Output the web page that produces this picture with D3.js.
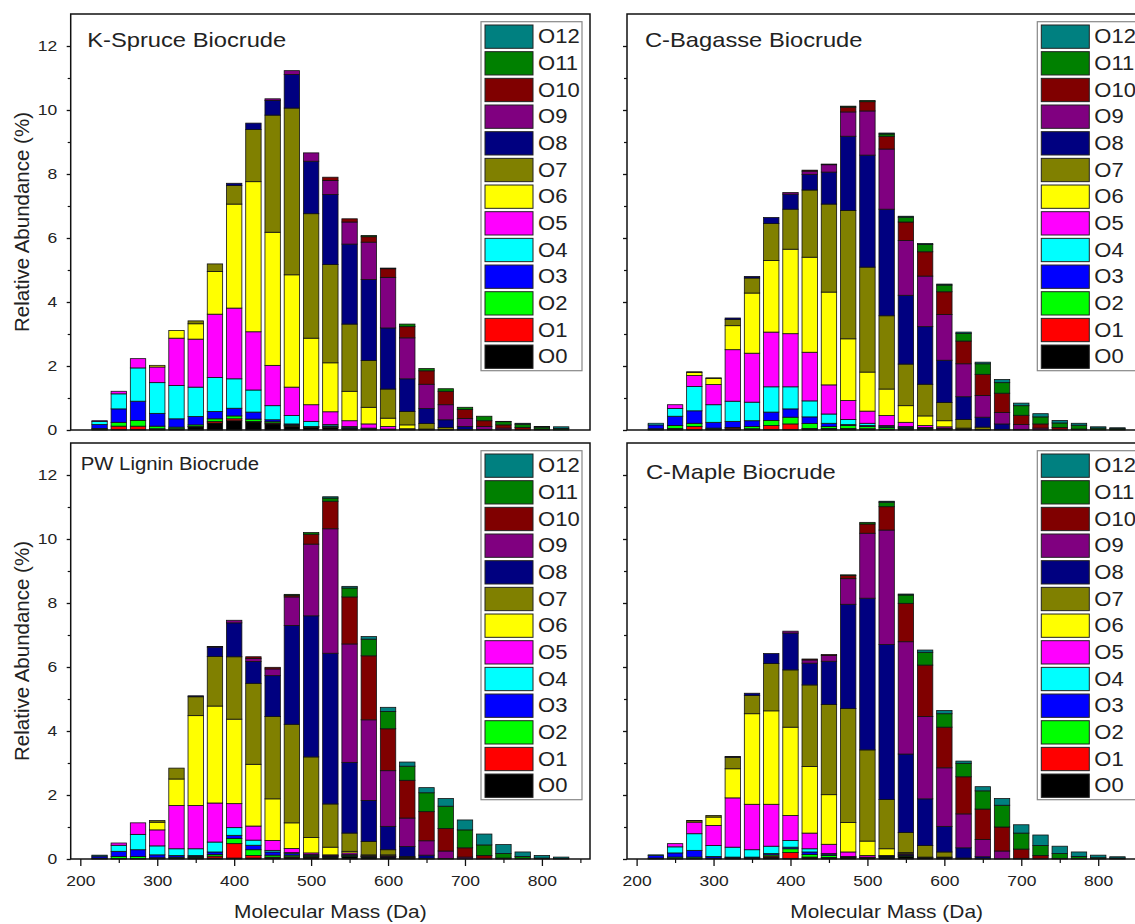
<!DOCTYPE html>
<html>
<head>
<meta charset="utf-8">
<script src="https://cdn.jsdelivr.net/npm/d3@7"></script>
<style>
  body { margin: 0; background: #fff; }
  text { font-family: "Liberation Sans", Arial, sans-serif; fill: #222; }
</style>
</head>
<body>
<svg id="chart" width="1135" height="924"></svg>
<script>
// mass bins (Da) and oxygen classes
const masses = [225, 250, 275, 300, 325, 350, 375, 400, 425, 450, 475, 500, 525, 550, 575, 600, 625, 650, 675, 700, 725, 750, 775, 800, 825];
const classes = ["O0", "O1", "O2", "O3", "O4", "O5", "O6", "O7", "O8", "O9", "O10", "O11", "O12"];
const classColors = ["#000000", "#ff0000", "#00ff00", "#0000ff", "#00ffff", "#ff00ff", "#ffff00", "#808000", "#000080", "#800080", "#800000", "#008000", "#008080"];
const yTickValues = [0, 2, 4, 6, 8, 10, 12];
const xTickValues = [200, 300, 400, 500, 600, 700, 800];
const panelTitles = ["K-Spruce Biocrude", "C-Bagasse Biocrude", "PW Lignin Biocrude", "C-Maple Biocrude"];

// rows = mass bins, columns = O0 .. O12 (relative abundance %)
const spruce = [
  [0.02, 0, 0.03, 0.12, 0.1, 0.02, 0, 0, 0, 0, 0, 0, 0],
  [0.02, 0.1, 0.12, 0.42, 0.47, 0.08, 0, 0, 0, 0, 0, 0, 0],
  [0.02, 0.1, 0.18, 0.6, 1.04, 0.29, 0, 0, 0, 0, 0, 0, 0],
  [0.02, 0.02, 0.08, 0.4, 0.96, 0.49, 0.05, 0, 0, 0, 0, 0, 0],
  [0.03, 0.01, 0.05, 0.26, 1.04, 1.48, 0.24, 0, 0, 0, 0, 0, 0],
  [0.1, 0.01, 0.05, 0.26, 0.92, 1.5, 0.48, 0.09, 0, 0, 0, 0, 0],
  [0.22, 0.05, 0.08, 0.23, 1.06, 1.98, 1.33, 0.24, 0, 0, 0, 0, 0],
  [0.29, 0.06, 0.09, 0.24, 0.92, 2.21, 3.25, 0.58, 0.07, 0, 0, 0, 0],
  [0.25, 0.02, 0.07, 0.22, 0.69, 1.82, 4.69, 1.63, 0.2, 0, 0, 0, 0],
  [0.19, 0.03, 0.04, 0.06, 0.44, 1.26, 4.16, 3.66, 0.46, 0.05, 0, 0, 0],
  [0.12, 0.02, 0.02, 0.03, 0.26, 0.89, 3.51, 5.21, 1.05, 0.12, 0, 0, 0],
  [0.08, 0.01, 0.01, 0.01, 0.16, 0.52, 2.08, 3.89, 1.64, 0.26, 0, 0, 0],
  [0.08, 0, 0.02, 0.03, 0.04, 0.4, 1.53, 3.07, 2.19, 0.44, 0.1, 0, 0],
  [0.04, 0, 0.01, 0.03, 0.03, 0.18, 0.92, 2.1, 2.5, 0.69, 0.1, 0, 0],
  [0.03, 0, 0.01, 0.01, 0.01, 0.13, 0.52, 1.46, 2.53, 1.17, 0.17, 0.04, 0],
  [0.02, 0, 0, 0, 0.01, 0.08, 0.26, 0.91, 1.91, 1.58, 0.27, 0.02, 0],
  [0.02, 0, 0, 0, 0, 0.02, 0.12, 0.42, 1.02, 1.28, 0.35, 0.08, 0],
  [0.01, 0, 0, 0, 0, 0, 0.02, 0.17, 0.47, 0.76, 0.42, 0.07, 0],
  [0, 0, 0, 0, 0, 0, 0.01, 0.07, 0.24, 0.47, 0.42, 0.08, 0],
  [0, 0, 0, 0, 0, 0, 0, 0.01, 0.1, 0.25, 0.28, 0.07, 0],
  [0, 0, 0, 0, 0, 0, 0, 0, 0.02, 0.09, 0.18, 0.14, 0],
  [0, 0, 0, 0, 0, 0, 0, 0, 0, 0.06, 0.1, 0.1, 0.01],
  [0, 0, 0, 0, 0, 0, 0, 0, 0, 0, 0.08, 0.1, 0.03],
  [0, 0, 0, 0, 0, 0, 0, 0, 0, 0, 0.03, 0.06, 0.02],
  [0, 0, 0, 0, 0, 0, 0, 0, 0, 0, 0, 0.05, 0.05]
];

const bagasse = [
  [0.02, 0, 0.02, 0.12, 0.05, 0, 0, 0, 0, 0, 0, 0, 0],
  [0.02, 0.03, 0.09, 0.29, 0.24, 0.12, 0, 0, 0, 0, 0, 0, 0],
  [0.01, 0.1, 0.1, 0.39, 0.76, 0.34, 0.1, 0.02, 0, 0, 0, 0, 0],
  [0.02, 0.01, 0.03, 0.18, 0.55, 0.63, 0.19, 0.02, 0, 0, 0, 0, 0],
  [0.02, 0.04, 0.02, 0.19, 0.63, 1.61, 0.75, 0.19, 0.05, 0, 0, 0, 0],
  [0.02, 0.02, 0.07, 0.18, 0.58, 1.53, 1.88, 0.47, 0.05, 0, 0, 0, 0],
  [0.02, 0.12, 0.16, 0.26, 0.79, 1.71, 2.24, 1.15, 0.19, 0, 0, 0, 0],
  [0.02, 0.17, 0.21, 0.26, 0.69, 1.66, 2.64, 1.25, 0.47, 0.05, 0, 0, 0],
  [0.03, 0.02, 0.15, 0.21, 0.5, 1.52, 2.97, 2.1, 0.49, 0.1, 0.03, 0, 0],
  [0.03, 0.02, 0.06, 0.1, 0.29, 0.91, 2.9, 2.75, 1.0, 0.23, 0.02, 0, 0],
  [0.03, 0.02, 0.09, 0.03, 0.16, 0.59, 1.93, 4.01, 2.32, 0.76, 0.15, 0.03, 0],
  [0.03, 0.01, 0.07, 0.03, 0.07, 0.38, 1.22, 3.28, 3.5, 1.38, 0.29, 0.04, 0],
  [0.03, 0, 0.05, 0.03, 0.03, 0.31, 0.83, 2.29, 3.33, 1.88, 0.4, 0.07, 0.03],
  [0.03, 0, 0.03, 0.02, 0.03, 0.13, 0.52, 1.3, 2.15, 1.71, 0.58, 0.15, 0.03],
  [0.02, 0, 0.02, 0.02, 0.02, 0.06, 0.3, 0.99, 1.8, 1.58, 0.76, 0.23, 0.03],
  [0.02, 0, 0.01, 0.01, 0.02, 0.04, 0.19, 0.57, 1.32, 1.43, 0.71, 0.21, 0.03],
  [0.01, 0, 0, 0, 0, 0.02, 0.03, 0.27, 0.71, 1.03, 0.71, 0.24, 0.04],
  [0, 0, 0, 0, 0, 0, 0.01, 0.08, 0.31, 0.68, 0.66, 0.33, 0.05],
  [0, 0, 0, 0, 0, 0, 0, 0.02, 0.17, 0.36, 0.6, 0.33, 0.1],
  [0, 0, 0, 0, 0, 0, 0, 0, 0.02, 0.15, 0.29, 0.3, 0.08],
  [0, 0, 0, 0, 0, 0, 0, 0, 0, 0.06, 0.13, 0.22, 0.1],
  [0, 0, 0, 0, 0, 0, 0, 0, 0, 0, 0.08, 0.14, 0.08],
  [0, 0, 0, 0, 0, 0, 0, 0, 0, 0, 0.03, 0.12, 0.06],
  [0, 0, 0, 0, 0, 0, 0, 0, 0, 0, 0, 0.06, 0.04],
  [0, 0, 0, 0, 0, 0, 0, 0, 0, 0, 0, 0.04, 0.03]
];

const lignin = [
  [0.01, 0, 0.02, 0.06, 0.03, 0, 0, 0, 0, 0, 0, 0, 0],
  [0.01, 0, 0.07, 0.16, 0.19, 0.07, 0, 0, 0, 0, 0, 0, 0],
  [0.01, 0, 0.07, 0.21, 0.48, 0.36, 0, 0, 0, 0, 0, 0, 0],
  [0.02, 0, 0.02, 0.09, 0.28, 0.5, 0.24, 0.05, 0, 0, 0, 0, 0],
  [0.03, 0, 0.03, 0.05, 0.21, 1.35, 0.83, 0.34, 0, 0, 0, 0, 0],
  [0.03, 0.02, 0.03, 0.03, 0.21, 1.35, 2.81, 0.59, 0.03, 0, 0, 0, 0],
  [0.03, 0.06, 0.05, 0.08, 0.31, 1.22, 3.03, 1.55, 0.29, 0.02, 0, 0, 0],
  [0.03, 0.45, 0.16, 0.1, 0.24, 0.75, 2.64, 1.95, 1.06, 0.08, 0, 0, 0],
  [0.03, 0.08, 0.18, 0.14, 0.16, 0.44, 1.93, 2.53, 0.68, 0.1, 0.05, 0, 0],
  [0.03, 0.03, 0.06, 0.1, 0.05, 0.31, 1.3, 2.57, 1.28, 0.21, 0.05, 0, 0],
  [0.05, 0.02, 0.05, 0.05, 0.03, 0.13, 0.8, 3.08, 3.09, 0.89, 0.05, 0.03, 0],
  [0.06, 0.01, 0.03, 0.02, 0.02, 0.05, 0.48, 2.52, 4.41, 2.24, 0.31, 0.05, 0],
  [0.06, 0, 0.02, 0.02, 0.01, 0.02, 0.24, 1.35, 4.71, 3.89, 0.86, 0.1, 0.04],
  [0.08, 0, 0.02, 0.02, 0.02, 0.05, 0.05, 0.57, 2.21, 3.7, 1.47, 0.28, 0.05],
  [0.06, 0, 0.01, 0.01, 0.01, 0.02, 0.02, 0.42, 1.28, 2.52, 2.0, 0.52, 0.08],
  [0.06, 0, 0, 0.01, 0.01, 0.02, 0.03, 0.16, 0.73, 1.74, 1.31, 0.54, 0.13],
  [0.03, 0, 0, 0, 0, 0, 0.02, 0.03, 0.31, 0.89, 1.18, 0.44, 0.13],
  [0, 0, 0, 0, 0, 0, 0, 0.01, 0.11, 0.45, 0.91, 0.59, 0.16],
  [0, 0, 0, 0, 0, 0, 0, 0, 0.01, 0.24, 0.7, 0.7, 0.24],
  [0, 0, 0, 0, 0, 0, 0, 0, 0, 0.06, 0.29, 0.56, 0.31],
  [0, 0, 0, 0, 0, 0, 0, 0, 0, 0, 0.11, 0.33, 0.34],
  [0, 0, 0, 0, 0, 0, 0, 0, 0, 0, 0.03, 0.14, 0.28],
  [0, 0, 0, 0, 0, 0, 0, 0, 0, 0, 0, 0.08, 0.14],
  [0, 0, 0, 0, 0, 0, 0, 0, 0, 0, 0, 0.03, 0.08],
  [0, 0, 0, 0, 0, 0, 0, 0, 0, 0, 0, 0.01, 0.05]
];

const maple = [
  [0.01, 0, 0.02, 0.08, 0.02, 0, 0, 0, 0, 0, 0, 0, 0],
  [0.01, 0, 0.05, 0.13, 0.19, 0.1, 0, 0, 0, 0, 0, 0, 0],
  [0.01, 0, 0.05, 0.21, 0.52, 0.36, 0.04, 0.01, 0, 0, 0, 0, 0],
  [0.02, 0, 0.01, 0.05, 0.34, 0.63, 0.26, 0.05, 0, 0, 0, 0, 0],
  [0.02, 0.01, 0.02, 0.01, 0.31, 1.54, 0.91, 0.36, 0.02, 0, 0, 0, 0],
  [0.02, 0.01, 0.02, 0.01, 0.23, 1.42, 2.83, 0.57, 0.07, 0, 0, 0, 0],
  [0.05, 0.04, 0.04, 0.04, 0.23, 1.31, 2.92, 1.48, 0.31, 0, 0, 0, 0],
  [0.02, 0.18, 0.12, 0.05, 0.21, 0.78, 2.76, 1.79, 1.15, 0.06, 0, 0, 0],
  [0.03, 0.03, 0.08, 0.08, 0.1, 0.49, 2.08, 2.55, 0.68, 0.1, 0.03, 0, 0],
  [0.03, 0.02, 0.06, 0.04, 0.02, 0.29, 1.55, 2.82, 1.35, 0.18, 0.03, 0, 0],
  [0.04, 0.01, 0.01, 0.01, 0.01, 0.14, 0.92, 3.56, 3.26, 0.8, 0.1, 0.02, 0],
  [0.04, 0, 0.01, 0.01, 0, 0.05, 0.45, 2.85, 4.74, 2.03, 0.29, 0.05, 0],
  [0.06, 0, 0.02, 0.02, 0.01, 0, 0.21, 1.54, 4.84, 3.58, 0.73, 0.14, 0.03],
  [0.08, 0, 0.02, 0.03, 0.02, 0.02, 0.03, 0.63, 2.45, 3.51, 1.2, 0.26, 0.03],
  [0.04, 0, 0.01, 0, 0, 0, 0.01, 0.36, 1.46, 2.57, 1.61, 0.4, 0.07],
  [0.04, 0, 0, 0, 0, 0, 0.02, 0.16, 0.8, 1.83, 1.27, 0.42, 0.1],
  [0.01, 0, 0, 0, 0, 0, 0, 0.02, 0.32, 1.06, 1.16, 0.42, 0.07],
  [0, 0, 0, 0, 0, 0, 0, 0.01, 0.06, 0.54, 0.95, 0.57, 0.13],
  [0, 0, 0, 0, 0, 0, 0, 0, 0, 0.25, 0.75, 0.68, 0.21],
  [0, 0, 0, 0, 0, 0, 0, 0, 0, 0.02, 0.29, 0.5, 0.26],
  [0, 0, 0, 0, 0, 0, 0, 0, 0, 0, 0.11, 0.31, 0.33],
  [0, 0, 0, 0, 0, 0, 0, 0, 0, 0, 0.02, 0.15, 0.23],
  [0, 0, 0, 0, 0, 0, 0, 0, 0, 0, 0, 0.08, 0.14],
  [0, 0, 0, 0, 0, 0, 0, 0, 0, 0, 0, 0.04, 0.08],
  [0, 0, 0, 0, 0, 0, 0, 0, 0, 0, 0, 0.03, 0.04]
];

// layout of the four panels (the right ones run past the picture edge, as in the original)
const plotW = 519.3, plotH = 416;
const stretch = 1.13; // the original figure is a bit wider than tall
const panels = [
  { title: panelTitles[0], data: spruce,  left: 70.7, top: 14,  yLabels: true,  xLabels: false, tSize: 21, tx: 16.5, ty: 33 },
  { title: panelTitles[1], data: bagasse, left: 627,  top: 14,  yLabels: false, xLabels: false, tSize: 21, tx: 18,   ty: 33 },
  { title: panelTitles[2], data: lignin,  left: 70.7, top: 443, yLabels: true,  xLabels: true,  tSize: 18, tx: 10,   ty: 27 },
  { title: panelTitles[3], data: maple,   left: 627,  top: 443, yLabels: false, xLabels: true,  tSize: 21, tx: 19,   ty: 36 }
];

const svg = d3.select("#chart");
const stack = d3.stack().keys(d3.range(classes.length));

panels.forEach(p => {
  const x = d3.scaleLinear().domain([187.5, 862.5]).range([p.left, p.left + plotW]);
  const y = d3.scaleLinear().domain([0, 13]).range([p.top + plotH, p.top]);
  const g = svg.append("g");

  // stacked bars
  const series = stack(p.data);
  g.selectAll("g.layer").data(series).join("g")
    .attr("fill", (d, i) => classColors[i])
    .selectAll("rect")
    .data(d => d.map((v, i) => ({ v, m: masses[i] })).filter(e => e.v[1] - e.v[0] > 0))
    .join("rect")
    .attr("x", e => x(e.m - 10))
    .attr("width", e => x(e.m + 10) - x(e.m - 10))
    .attr("y", e => y(e.v[1]))
    .attr("height", e => y(e.v[0]) - y(e.v[1]))
    .attr("stroke", "#111")
    .attr("stroke-width", 0.8);

  // frame
  g.append("rect")
    .attr("x", p.left).attr("y", p.top)
    .attr("width", plotW).attr("height", plotH)
    .attr("fill", "none").attr("stroke", "#111").attr("stroke-width", 1.5);

  // y axis: major + minor ticks
  const yAxis = d3.axisLeft(y).tickValues(yTickValues).tickSize(4).tickPadding(8)
    .tickFormat(p.yLabels ? d3.format("d") : "");
  const ya = g.append("g").attr("transform", `translate(${p.left},0)`).call(yAxis);
  ya.select(".domain").remove();
  ya.selectAll("line").attr("stroke", "#111").attr("stroke-width", 1.3);
  ya.selectAll("text").attr("font-size", 15.5).attr("transform", `scale(${stretch},1)`);
  const yMinor = d3.axisLeft(y).tickValues([1, 3, 5, 7, 9, 11]).tickSize(3).tickFormat("");
  const ym = g.append("g").attr("transform", `translate(${p.left},0)`).call(yMinor);
  ym.select(".domain").remove();
  ym.selectAll("line").attr("stroke", "#111").attr("stroke-width", 1.2);

  // x axis on the lower panels
  if (p.xLabels) {
    const xAxis = d3.axisBottom(x).tickValues(xTickValues).tickSize(7).tickPadding(9).tickFormat(d3.format("d"));
    const xa = g.append("g").attr("transform", `translate(0,${p.top + plotH})`).call(xAxis);
    xa.select(".domain").remove();
    xa.selectAll("line").attr("stroke", "#111").attr("stroke-width", 1.3);
    xa.selectAll("text").attr("font-size", 15.5).attr("transform", `scale(${stretch},1)`);
    const xMinor = d3.axisBottom(x).tickValues([250, 350, 450, 550, 650, 750, 850]).tickSize(4).tickFormat("");
    const xm = g.append("g").attr("transform", `translate(0,${p.top + plotH})`).call(xMinor);
    xm.select(".domain").remove();
    xm.selectAll("line").attr("stroke", "#111").attr("stroke-width", 1.2);

    g.append("text")
      .attr("transform", `translate(${p.left + plotW / 2},918) scale(${stretch},1)`)
      .attr("text-anchor", "middle").attr("font-size", 18.5)
      .text("Molecular Mass (Da)");
  }

  if (p.yLabels) {
    g.append("text")
      .attr("transform", `translate(29,${p.top + plotH / 2}) rotate(-90)`)
      .attr("text-anchor", "middle").attr("font-size", 20.5)
      .text("Relative Abundance (%)");
  }

  // panel title
  g.append("text")
    .attr("transform", `translate(${p.left + p.tx},${p.top + p.ty}) scale(${stretch},1)`)
    .attr("font-size", p.tSize)
    .text(p.title);

  // legend (O12 on top)
  const lg = g.append("g").attr("transform", `translate(${p.left + 410.3},${p.top + 7.7})`);
  lg.append("rect").attr("width", 101).attr("height", 349)
    .attr("fill", "#fff").attr("stroke", "#888").attr("stroke-width", 1.2);
  const order = classes.map((c, i) => i).reverse();
  const rows = lg.selectAll("g.item").data(order).join("g")
    .attr("transform", (d, i) => `translate(0,${3.3 + i * 26.67})`);
  rows.append("rect")
    .attr("x", 4).attr("width", 48).attr("height", 23.3)
    .attr("fill", d => classColors[d]).attr("stroke", "#222").attr("stroke-width", 1);
  rows.append("text")
    .attr("transform", `translate(57,18.3) scale(${stretch},1)`)
    .attr("font-size", 19.5)
    .text(d => classes[d]);
});
</script>
</body>
</html>
